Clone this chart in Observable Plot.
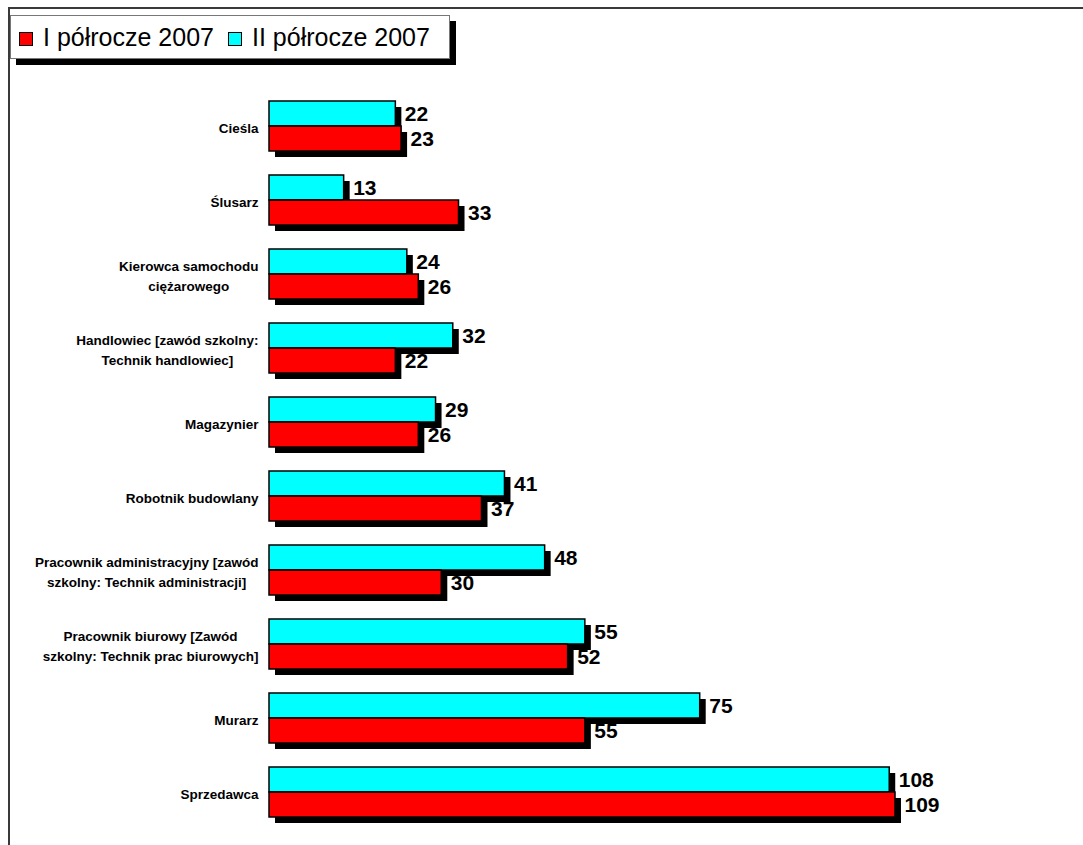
<!DOCTYPE html>
<html><head><meta charset="utf-8">
<script src="https://cdn.jsdelivr.net/npm/d3@7"></script>
<script src="https://cdn.jsdelivr.net/npm/@observablehq/plot@0.6"></script>
<style>
body{margin:0;background:#fff;font-family:"Liberation Sans",Arial,sans-serif;}
#wrap{position:relative;width:1083px;height:845px;overflow:hidden;}
#chart{position:absolute;left:0;top:0;}
#frame{position:absolute;left:8px;top:7px;width:1100px;height:900px;border-top:2px solid #3a3a3a;border-left:2px solid #3a3a3a;pointer-events:none;}
#legend{position:absolute;left:10px;top:15px;width:440px;height:44px;background:#fff;border:1px solid #777;box-shadow:6px 6px 0 #000;box-sizing:border-box;}
.item{position:absolute;top:0;height:42px;display:flex;align-items:center;font-size:25px;color:#000;white-space:nowrap;}
.sw{width:12px;height:12px;border:1px solid #000;margin-right:10px;margin-top:3px;}
</style></head>
<body><div id="wrap"><div id="chart"></div><div id="frame"></div>
<div id="legend"></div></div>
<script>
const categories = ["Cieśla","Ślusarz","Kierowca samochodu ciężarowego","Handlowiec [zawód szkolny: Technik handlowiec]","Magazynier","Robotnik budowlany","Pracownik administracyjny [zawód szkolny: Technik administracji]","Pracownik biurowy [Zawód szkolny: Technik prac biurowych]","Murarz","Sprzedawca"];
const tickLabels = ["Cieśla","Ślusarz","Kierowca samochodu\nciężarowego","Handlowiec [zawód szkolny:\nTechnik handlowiec]","Magazynier","Robotnik budowlany","Pracownik administracyjny [zawód\nszkolny: Technik administracji]","Pracownik biurowy [Zawód\nszkolny: Technik prac biurowych]","Murarz","Sprzedawca"];
const series = ["II półrocze 2007","I półrocze 2007"];
const valuesII = [22,13,24,32,29,41,48,55,75,108];
const valuesI = [23,33,26,22,26,37,30,52,55,109];
const colors = ["#00ffff","#ff0000"];
const legendOrder = ["I półrocze 2007","II półrocze 2007"];

const data = categories.flatMap((c,i)=>[
  {category:c, series:series[0], value:valuesII[i]},
  {category:c, series:series[1], value:valuesI[i]}
]);

const chart = Plot.plot({
  width:1083, height:845, marginLeft:269, marginRight:10, marginTop:76, marginBottom:3,
  style:{fontFamily:"'Liberation Sans', Arial, sans-serif", background:"transparent"},
  x:{domain:[0,140], axis:null},
  y:{domain:series, padding:0, axis:null},
  fy:{domain:categories, paddingInner:0.32, paddingOuter:0.32, label:null},
  color:{domain:series, range:colors},
  marks:[
    Plot.axisFy({anchor:"left", tickSize:0, tickPadding:11, label:null,
      tickFormat:d=>tickLabels[categories.indexOf(d)],
      fontSize:13.5, fontWeight:"bold", lineHeight:1.45, fill:"#000"}),
    Plot.barX(data,{x:"value", y:"series", fy:"category", fill:"#000", dx:6, dy:6}),
    Plot.barX(data,{x:"value", y:"series", fy:"category", fill:"series", stroke:"#000", strokeWidth:1.5}),
    Plot.text(data,{x:"value", y:"series", fy:"category", text:d=>String(d.value), dx:9,
      textAnchor:"start", fontSize:21, fontWeight:"bold", fill:"#000"})
  ]
});
document.getElementById("chart").appendChild(chart);

// center multi-line category labels within their block (right edge kept)
chart.querySelectorAll('g[aria-label="fy-axis tick label"] text').forEach(t=>{
  const ts = t.querySelectorAll("tspan");
  if (ts.length < 2) return;
  let W = 0;
  ts.forEach(s=>{W = Math.max(W, s.getComputedTextLength());});
  t.setAttribute("text-anchor","middle");
  ts.forEach(s=>s.setAttribute("x", -W/2));
});

// legend
const leg = document.getElementById("legend");
const lx = [8, 217];
legendOrder.forEach((s,i)=>{
  const it = document.createElement("div");
  it.className = "item"; it.style.left = lx[i]+"px";
  const sw = document.createElement("div");
  sw.className = "sw"; sw.style.background = colors[series.indexOf(s)];
  it.appendChild(sw);
  it.appendChild(document.createTextNode(s));
  leg.appendChild(it);
});
</script></body></html>
